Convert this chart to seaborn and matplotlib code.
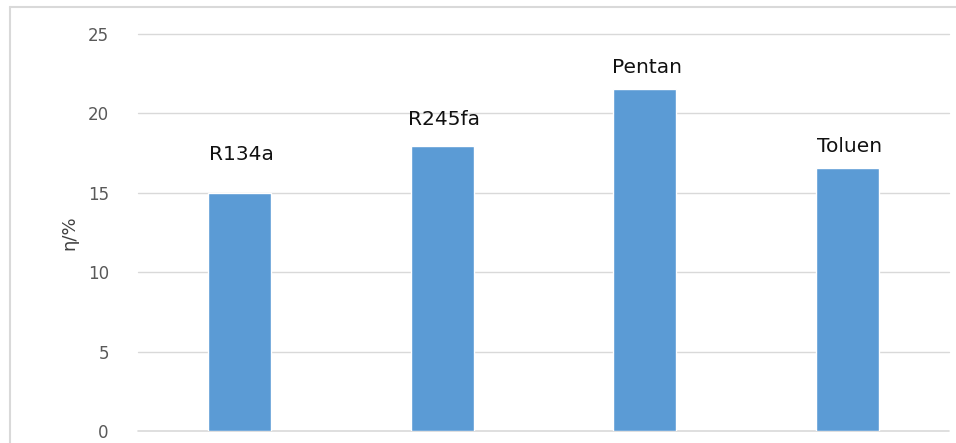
import matplotlib
matplotlib.use("Agg")
import matplotlib.pyplot as plt
import seaborn as sns
import pandas as pd
from matplotlib.lines import Line2D

categories = ["R134a", "R245fa", "Pentan", "Toluen"]
values = [15.0, 17.95, 21.55, 16.55]
label_y = [17.4, 19.6, 22.9, 17.9]
y_ticks = [0, 5, 10, 15, 20, 25]

sns.set_theme(style="white")
plt.rcParams['font.family'] = ['DejaVu Sans']

df = pd.DataFrame({"cat": categories, "val": values})

fig = plt.figure(figsize=(9.56, 4.43), dpi=100)
ax = fig.add_axes([138/956, 1-431/443, (949-138)/956, (431-34)/443])

for t in y_ticks:
    ax.axhline(t, color="#d9d9d9", lw=1.2 if t == 0 else 1.0, zorder=0, clip_on=False)

sns.barplot(data=df, x="cat", y="val", color="#5B9BD5", width=0.31,
            saturation=1, ax=ax, zorder=2)

for i, (c, ly) in enumerate(zip(categories, label_y)):
    ax.text(i + 0.01, ly, c, ha="center", va="center", fontsize=14.5, color="#111111")

ax.set_ylim(0, 25)
ax.set_xlim(-0.5, 3.5)
ax.set_yticks(y_ticks)
ax.set_yticklabels([str(t) for t in y_ticks], fontsize=12, color="#595959")
ax.tick_params(axis="y", length=0, pad=21)
ax.set_xticks([])
ax.set_xlabel("")
ax.set_ylabel("η/%", fontsize=13, color="#404040")
ax.yaxis.set_label_coords((78-138)/811, 0.50)
for s in ax.spines.values():
    s.set_visible(False)

# outer chart frame (partially cropped)
fig.add_artist(Line2D([10/956, 10/956], [0, 1-7/443], transform=fig.transFigure,
                      color="#d9d9d9", lw=1.5))
fig.add_artist(Line2D([10/956, 1], [1-7/443, 1-7/443], transform=fig.transFigure,
                      color="#d9d9d9", lw=1.5))

fig.savefig("out.png", dpi=100)
